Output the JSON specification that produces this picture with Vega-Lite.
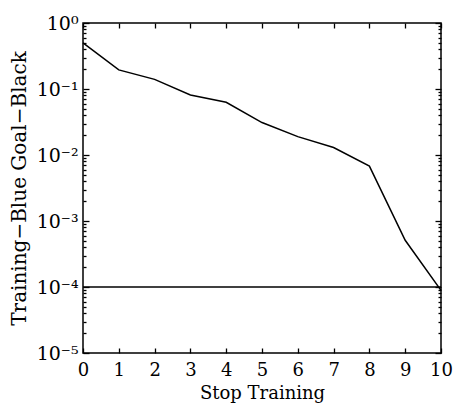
{
  "$schema": "https://vega.github.io/schema/vega-lite/v6.json",
  "width": 358,
  "height": 330,
  "autosize": "none",
  "padding": {"left": 83, "top": 23, "right": 15, "bottom": 58},
  "config": {
    "view": {"stroke": "black", "strokeWidth": 1.5},
    "axis": {"domain": false, "grid": false, "tickColor": "black", "tickWidth": 1.3, "labelColor": "black", "titleColor": "black", "labelFont": "DejaVu Serif", "titleFont": "DejaVu Serif"}
  },
  "datasets": {
    "training": [
      {"epoch": 0, "perf": 0.5},
      {"epoch": 1, "perf": 0.195},
      {"epoch": 2, "perf": 0.14},
      {"epoch": 3, "perf": 0.081},
      {"epoch": 4, "perf": 0.063},
      {"epoch": 5, "perf": 0.031},
      {"epoch": 6, "perf": 0.019},
      {"epoch": 7, "perf": 0.013},
      {"epoch": 8, "perf": 0.0068},
      {"epoch": 9, "perf": 0.00051},
      {"epoch": 10, "perf": 0.000089}
    ],
    "goal": [
      {"epoch": 0, "perf": 0.0001},
      {"epoch": 10, "perf": 0.0001}
    ]
  },
  "resolve": {"axis": {"x": "independent", "y": "independent"}},
  "layer": [
    {
      "data": {"name": "training"},
      "mark": {"type": "line", "color": "black", "strokeWidth": 1.5},
      "encoding": {
        "x": {
          "field": "epoch", "type": "quantitative",
          "scale": {"domain": [0, 10], "nice": false, "zero": false},
          "axis": {"orient": "bottom", "values": [0,1,2,3,4,5,6,7,8,9,10], "tickSize": -5, "labelPadding": 13, "labelFontSize": 18, "labelFlush": false, "title": "Stop Training", "titleFontSize": 18, "titleFontWeight": "normal", "titlePadding": 5}
        },
        "y": {
          "field": "perf", "type": "quantitative",
          "scale": {"type": "log", "domain": [0.00001, 1], "nice": false},
          "axis": {
            "orient": "left",
            "values": [0.00001,0.00002,0.00003,0.00004,0.00005,0.00006,0.00007,0.00008,0.00009,0.0001,0.0002,0.0003,0.0004,0.0005,0.0006,0.0007,0.0008,0.0009,0.001,0.002,0.003,0.004,0.005,0.006,0.007,0.008,0.009,0.01,0.02,0.03,0.04,0.05,0.06,0.07,0.08,0.09,0.1,0.2,0.3,0.4,0.5,0.6,0.7,0.8,0.9,1],
            "labelExpr": "abs(log(datum.value)/LN10 - round(log(datum.value)/LN10)) < 0.001 ? '10' + ['⁰','⁻¹','⁻²','⁻³','⁻⁴','⁻⁵'][-round(log(datum.value)/LN10)] : ''",
            "tickSize": {"condition": {"test": "abs(log(datum.value)/LN10 - round(log(datum.value)/LN10)) < 0.001", "value": -6}, "value": -3},
            "labelPadding": 11,
            "labelFontSize": 19,
            "labelFlush": false,
            "labelOverlap": false,
            "title": "Training−Blue Goal−Black",
            "titleFontSize": 20,
            "titleFontWeight": "normal",
            "titlePadding": 7
          }
        }
      }
    },
    {
      "data": {"name": "goal"},
      "mark": {"type": "line", "color": "black", "strokeWidth": 1.5},
      "encoding": {
        "x": {
          "field": "epoch", "type": "quantitative",
          "axis": {"orient": "top", "values": [0,1,2,3,4,5,6,7,8,9,10], "tickSize": -5, "labels": false, "title": null}
        },
        "y": {
          "field": "perf", "type": "quantitative",
          "axis": {
            "orient": "right",
            "values": [0.00001,0.00002,0.00003,0.00004,0.00005,0.00006,0.00007,0.00008,0.00009,0.0001,0.0002,0.0003,0.0004,0.0005,0.0006,0.0007,0.0008,0.0009,0.001,0.002,0.003,0.004,0.005,0.006,0.007,0.008,0.009,0.01,0.02,0.03,0.04,0.05,0.06,0.07,0.08,0.09,0.1,0.2,0.3,0.4,0.5,0.6,0.7,0.8,0.9,1],
            "tickSize": {"condition": {"test": "abs(log(datum.value)/LN10 - round(log(datum.value)/LN10)) < 0.001", "value": -6}, "value": -3},
            "labels": false,
            "title": null
          }
        }
      }
    }
  ]
}
